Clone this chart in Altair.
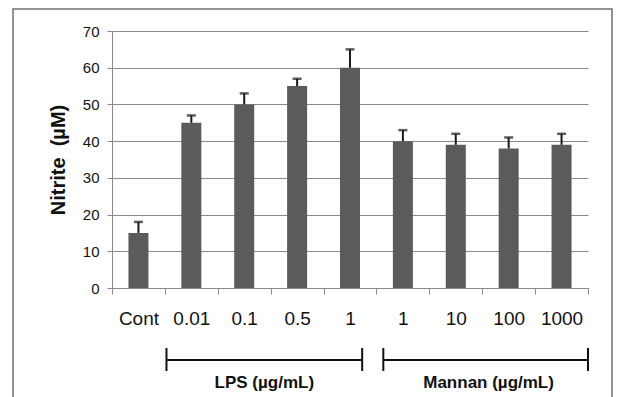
import altair as alt
import pandas as pd

# ---- data ----
cat_ids = ["Cont", "L0.01", "L0.1", "L0.5", "L1", "M1", "M10", "M100", "M1000"]
cat_labels = ["Cont", "0.01", "0.1", "0.5", "1", "1", "10", "100", "1000"]
nitrite = [15, 45, 50, 55, 60, 40, 39, 38, 39]
sd = [3, 2, 3, 2, 5, 3, 3, 3, 3]
y_ticks = [0, 10, 20, 30, 40, 50, 60, 70]

group_labels = ["LPS (µg/mL)", "Mannan (µg/mL)"]
group_start = ["L0.01", "M1"]
group_end = ["L1", "M1000"]
group_text_at = ["L0.1", "M100"]

df = pd.DataFrame({"cat": cat_ids, "value": nitrite, "sd": sd})
df["top"] = df["value"] + df["sd"]

ids_js = "[" + ",".join("'%s'" % c for c in cat_ids) + "]"
labs_js = "[" + ",".join("'%s'" % c for c in cat_labels) + "]"
label_expr = f"{labs_js}[indexof({ids_js}, datum.value)]"

FONT = "Liberation Sans"
GRID = "#8a8a8a"

xscale = alt.Scale(domain=cat_ids, paddingInner=0, paddingOuter=0)
yscale = alt.Scale(domain=[0, 70], nice=False)
yaxis = alt.Axis(title="Nitrite\u00a0\u00a0(µM)", values=y_ticks, tickCount=8,
                 labelOverlap=False,
                 grid=True, gridColor=GRID, gridWidth=1.2,
                 domainColor=GRID, tickColor=GRID, tickSize=5,
                 labelFont=FONT, labelFontSize=15, labelColor="#111",
                 labelPadding=8, titleFont=FONT, titleFontSize=20,
                 titleFontWeight="bold", titleColor="#111",
                 titlePadding=14)

base = alt.Chart(df)

bars = base.mark_bar(size=20, color="#5b5b5b").encode(
    x=alt.X("cat:N", scale=xscale, sort=cat_ids,
            axis=alt.Axis(title=None, labelExpr=label_expr, labelAngle=0,
                          tickBand="extent", tickSize=6, tickColor=GRID,
                          domainColor=GRID, labelFont=FONT, labelFontSize=19,
                          labelColor="#111", labelPadding=15, grid=False)),
    y=alt.Y("value:Q", scale=yscale, axis=yaxis),
)

err_line = base.mark_rule(color="#1a1a1a", strokeWidth=2).encode(
    x=alt.X("cat:N", title=None),
    y=alt.Y("value:Q", axis=yaxis),
    y2=alt.Y2("top:Q"),
)
err_cap = base.mark_tick(color="#1a1a1a", size=9, thickness=2.5).encode(
    x=alt.X("cat:N", title=None),
    y=alt.Y("top:Q", axis=yaxis),
)

layers = [bars, err_line, err_cap]

# group brackets below the axis
bps = [(0.03, 0.73, 0.88), (0.13, 1.0, 0.12)]
for i in range(len(group_labels)):
    s_bp, e_bp, t_bp = bps[i]
    d = alt.Data(values=[{"cat": group_start[i], "cat_end": group_end[i],
                          "tcat": group_text_at[i], "label": group_labels[i]}])
    c = alt.Chart(d)
    layers.append(c.mark_rule(color="#111", strokeWidth=2).encode(
        x=alt.X("cat:N", title=None, bandPosition=s_bp),
        x2=alt.X2("cat_end", bandPosition=e_bp),
        y=alt.value(329)))
    layers.append(c.mark_rule(color="#111", strokeWidth=2).encode(
        x=alt.X("cat:N", title=None, bandPosition=s_bp),
        y=alt.value(317), y2=alt.value(340)))
    layers.append(c.mark_rule(color="#111", strokeWidth=2).encode(
        x=alt.X("cat_end:N", title=None, bandPosition=e_bp),
        y=alt.value(317), y2=alt.value(340)))
    layers.append(c.mark_text(font=FONT, fontSize=17, fontWeight="bold",
                              color="#111", baseline="middle").encode(
        x=alt.X("tcat:N", title=None, bandPosition=t_bp),
        y=alt.value(352), text="label:N"))

# outer frame of the figure
frame = alt.Chart(alt.Data(values=[{}])).mark_rect(
    fill=None, fillOpacity=0, stroke="#707070", strokeWidth=1.5).encode(
    x=alt.value(-99), x2=alt.value(500), y=alt.value(-22), y2=alt.value(380))
layers.append(frame)

chart = alt.layer(*layers).properties(
    width=476, height=257, background="white",
    padding={"left": 4, "top": 0, "right": 0, "bottom": 0},
).configure_view(stroke=None)

chart.save("out.html", embed_options={"renderer": "svg", "actions": False})
